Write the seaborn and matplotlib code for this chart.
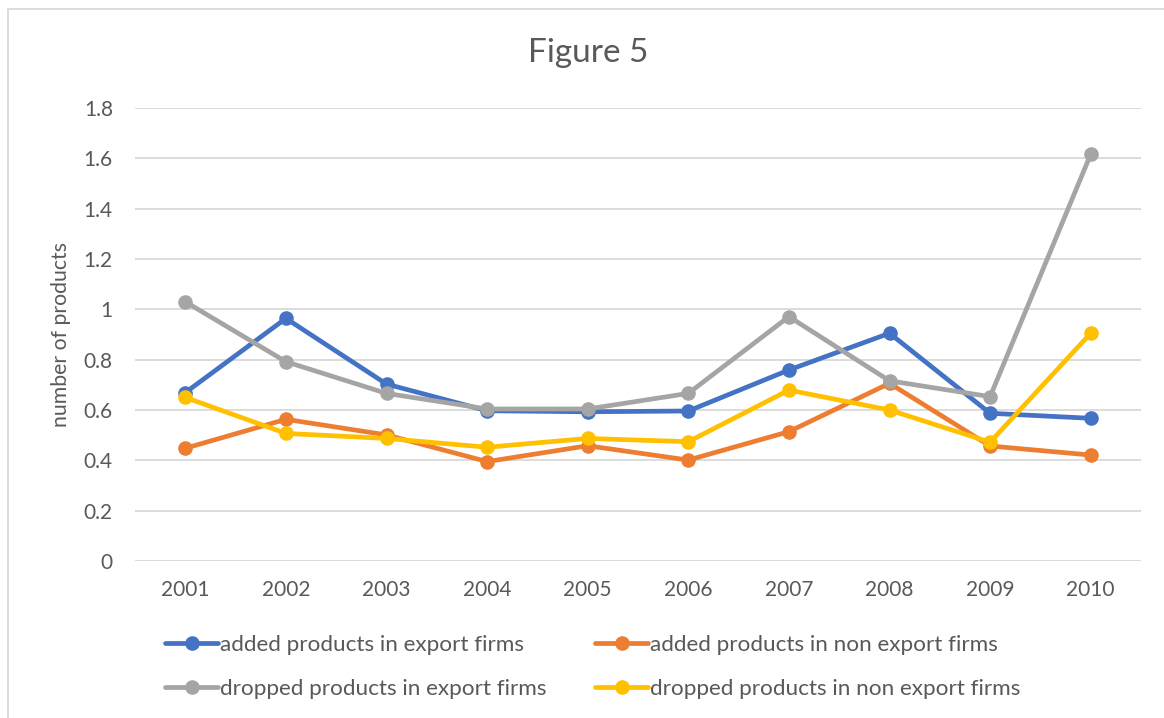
import matplotlib
matplotlib.use("Agg")
import matplotlib.pyplot as plt
from matplotlib.patches import Rectangle
import pandas as pd
import seaborn as sns

# Data: average number of products added / dropped per firm
years = [2001, 2002, 2003, 2004, 2005, 2006, 2007, 2008, 2009, 2010]
added_export = [0.669, 0.964, 0.703, 0.597, 0.593, 0.596, 0.759, 0.905, 0.587, 0.567]
added_non_export = [0.448, 0.563, 0.501, 0.395, 0.458, 0.401, 0.514, 0.706, 0.457, 0.421]
dropped_export = [1.030, 0.792, 0.666, 0.604, 0.604, 0.666, 0.971, 0.716, 0.653, 1.616]
dropped_non_export = [0.650, 0.507, 0.487, 0.452, 0.487, 0.474, 0.679, 0.600, 0.472, 0.905]

series_names = [
    "added products in export firms",
    "added products in non export firms",
    "dropped products in export firms",
    "dropped products in non export firms",
]
series_values = [added_export, added_non_export, dropped_export, dropped_non_export]
colors = ["#4472C4", "#ED7D31", "#A5A5A5", "#FFC000"]
y_ticks = [0, 0.2, 0.4, 0.6, 0.8, 1.0, 1.2, 1.4, 1.6, 1.8]
y_tick_labels = ["0", "0.2", "0.4", "0.6", "0.8", "1", "1.2", "1.4", "1.6", "1.8"]

rows = []
for name, vals in zip(series_names, series_values):
    for yr, v in zip(years, vals):
        rows.append({"year": yr, "value": v, "series": name})
df = pd.DataFrame(rows)

sns.set_theme(style="white")
plt.rcParams["font.family"] = ["Lato", "DejaVu Sans"]
text_color = "#595959"
grid_color = "#D9D9D9"

fig = plt.figure(figsize=(11.64, 7.18), dpi=100)
ax = fig.add_axes([135 / 1164, 1 - 561 / 718, (1141 - 135) / 1164, (561 - 108) / 718])

sns.lineplot(
    data=df, x="year", y="value", hue="series", hue_order=series_names,
    palette=colors, marker="o", markersize=10.5, markeredgewidth=0,
    linewidth=3.4, legend=False, ax=ax, clip_on=False,
)

ax.set_xlim(years[0] - 0.5, years[-1] + 0.5)
ax.set_ylim(0, 1.8)
ax.set_xticks(years)
ax.set_xticklabels([str(y) for y in years])
ax.set_yticks(y_ticks)
ax.set_yticklabels(y_tick_labels)
ax.tick_params(axis="x", length=0, pad=14, labelsize=15, labelcolor=text_color)
ax.tick_params(axis="y", length=0, pad=16, labelsize=15, labelcolor=text_color)
ax.yaxis.grid(True, color=grid_color, linewidth=1.3)
ax.set_axisbelow(True)
for sp in ax.spines.values():
    sp.set_visible(False)

ax.set_xlabel("")
ax.set_ylabel("number of products", fontsize=15.3, color=text_color, labelpad=9)

fig.text(588 / 1164, 1 - 53 / 718, "Figure 5", ha="center", va="center",
         fontsize=24, color=text_color)

# Legend: two columns, filled column-wise
lines = ax.lines[:4]
order = [0, 2, 1, 3]
leg = fig.legend(
    [lines[i] for i in order], [series_names[i] for i in order],
    ncol=2, loc="center", bbox_to_anchor=(593 / 1164, 1 - 667 / 718),
    frameon=False, fontsize=16.2, handlelength=2.35, handletextpad=0.1,
    columnspacing=2.15, labelspacing=1.05, labelcolor=text_color,
)

# Chart frame
fig.patches.append(Rectangle((8 / 1164, -0.05), 1.1, 1 - 9 / 718 + 0.05,
                             transform=fig.transFigure, fill=False,
                             edgecolor=grid_color, linewidth=1.3))

fig.savefig("out.png", dpi=100, facecolor="white")
